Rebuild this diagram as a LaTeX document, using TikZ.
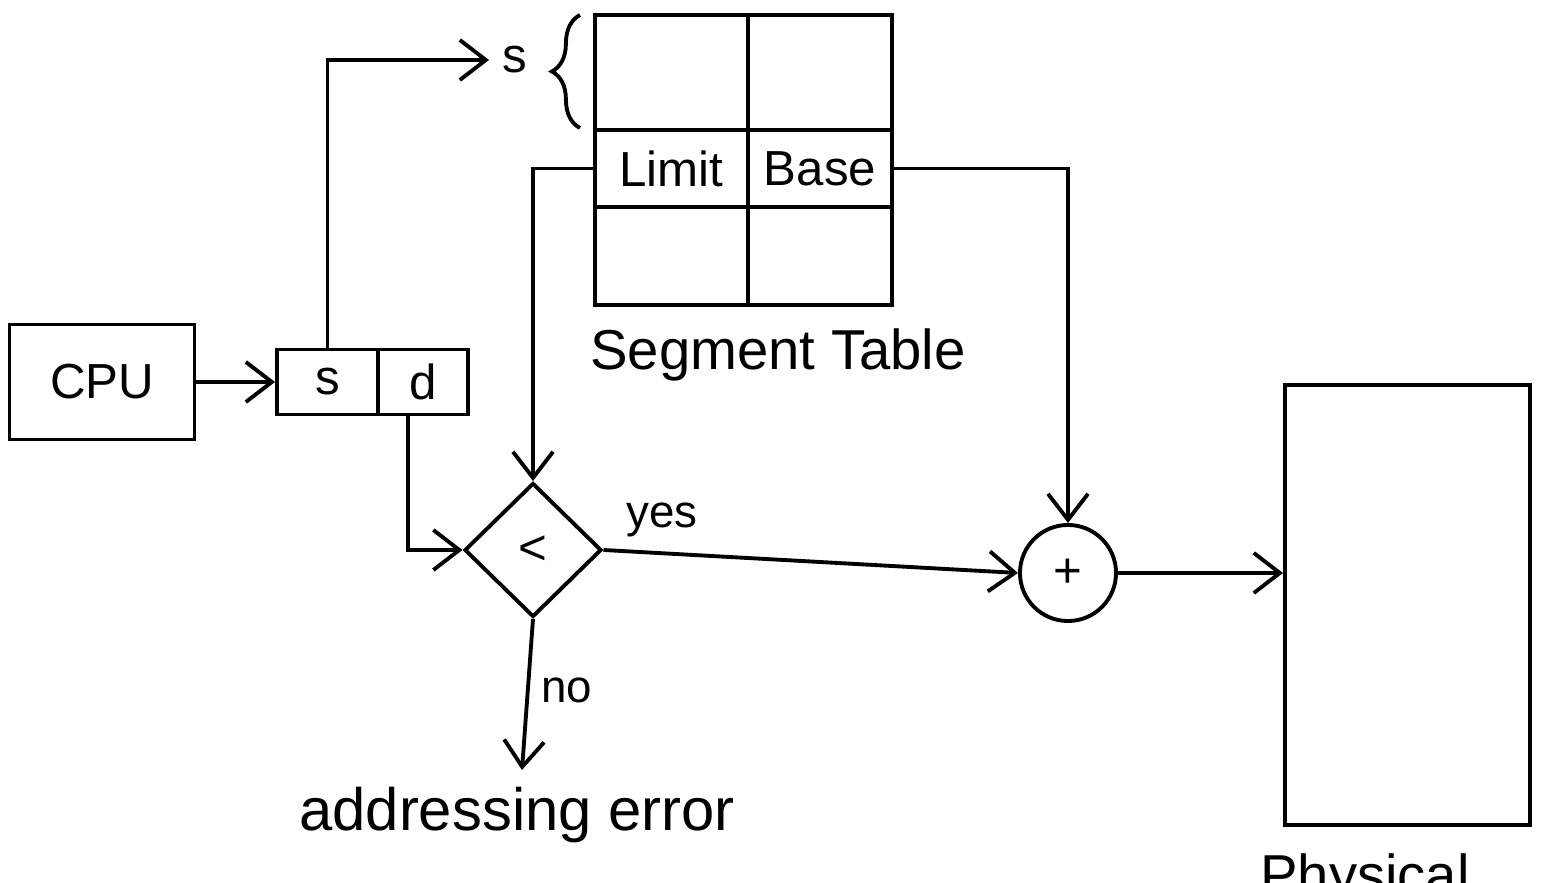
\documentclass[tikz,border=0pt]{standalone}
\usepackage{fontspec}
\setmainfont{Liberation Sans}
\usetikzlibrary{arrows.meta,shapes.geometric,decorations.pathreplacing}
\begin{document}
\begin{tikzpicture}[x=0.01cm,y=-0.01cm,
  line width=1.1pt,
  arr/.style={-{Straight Barb[length=2.6mm,width=4mm,line width=1.1pt]}},
  box/.style={draw,rectangle,inner sep=0pt},
  lbl/.style={font=\fontsize{13}{15}\selectfont},
  big/.style={font=\fontsize{16}{19}\selectfont}]
\useasboundingbox (0,0) rectangle (1545,883);
% CPU
\node[box,minimum width=1.85cm,minimum height=1.15cm,font=\fontsize{14}{16}\selectfont] (cpu) at (102,382) {CPU};
% logical address
\node[box,minimum width=1.01cm,minimum height=0.65cm,font=\fontsize{14}{16}\selectfont] (scell) at (327.5,382) {s};
\node[box,minimum width=0.90cm,minimum height=0.65cm,font=\fontsize{14}{16}\selectfont] (dcell) at (423,382) {d};
% segment table
\node[box,minimum width=1.53cm,minimum height=1.15cm] (tl) at (671.5,72.5) {};
\node[box,minimum width=1.44cm,minimum height=1.15cm] (tr) at (820,72.5) {};
\node[box,minimum width=1.53cm,minimum height=0.77cm,font=\fontsize{14}{16}\selectfont] (limit) at (671.5,168.5) {Limit};
\node[box,minimum width=1.44cm,minimum height=0.77cm,font=\fontsize{14}{16}\selectfont] (base) at (820,168.5) {Base};
\node[box,minimum width=1.53cm,minimum height=0.98cm] (bl) at (671.5,256) {};
\node[box,minimum width=1.44cm,minimum height=0.98cm] (br) at (820,256) {};
\node[big] (segtab) at (778,355) {Segment Table};
% s label and brace
\node[font=\fontsize{14}{16}\selectfont] (stext) at (515,60) {s};
\draw[decorate,decoration={brace,amplitude=8pt}] (580,128) -- (580,15);
% comparator
\node[draw,diamond,minimum width=1.37cm,minimum height=1.34cm,inner sep=0pt,font=\fontsize{14}{16}\selectfont] (dia) at (533,550) {<};
% adder
\node[draw,circle,minimum size=0.96cm,inner sep=0pt,font=\fontsize{14}{16}\selectfont] (plus) at (1068,573) {+};
% physical memory
\node[box,minimum width=2.45cm,minimum height=4.4cm] (mem) at (1407.5,605) {};
\node[big,anchor=base] (phys) at (1365,895) {Physical};
% labels
\node[lbl] (yes) at (662,520) {yes};
\node[lbl] (no) at (567,690) {no};
\node[font=\fontsize{17}{20}\selectfont] (err) at (517,815) {addressing error};
\coordinate (noend) at (522,770);
% connectors
\draw[arr] (cpu) -- (scell);
\draw[arr] (scell.north) |- (stext.west);
\draw[arr] (limit.west) -| (dia.north);
\draw[arr] ([xshift=-0.15cm]dcell.south) |- (dia.west);
\draw[arr] (dia.east) -- (plus.west);
\draw[arr] (base.east) -| (plus.north);
\draw[arr] (plus.east) -- (plus.east -| mem.west);
\draw[arr] (dia.south) -- (noend);
\end{tikzpicture}
\end{document}
